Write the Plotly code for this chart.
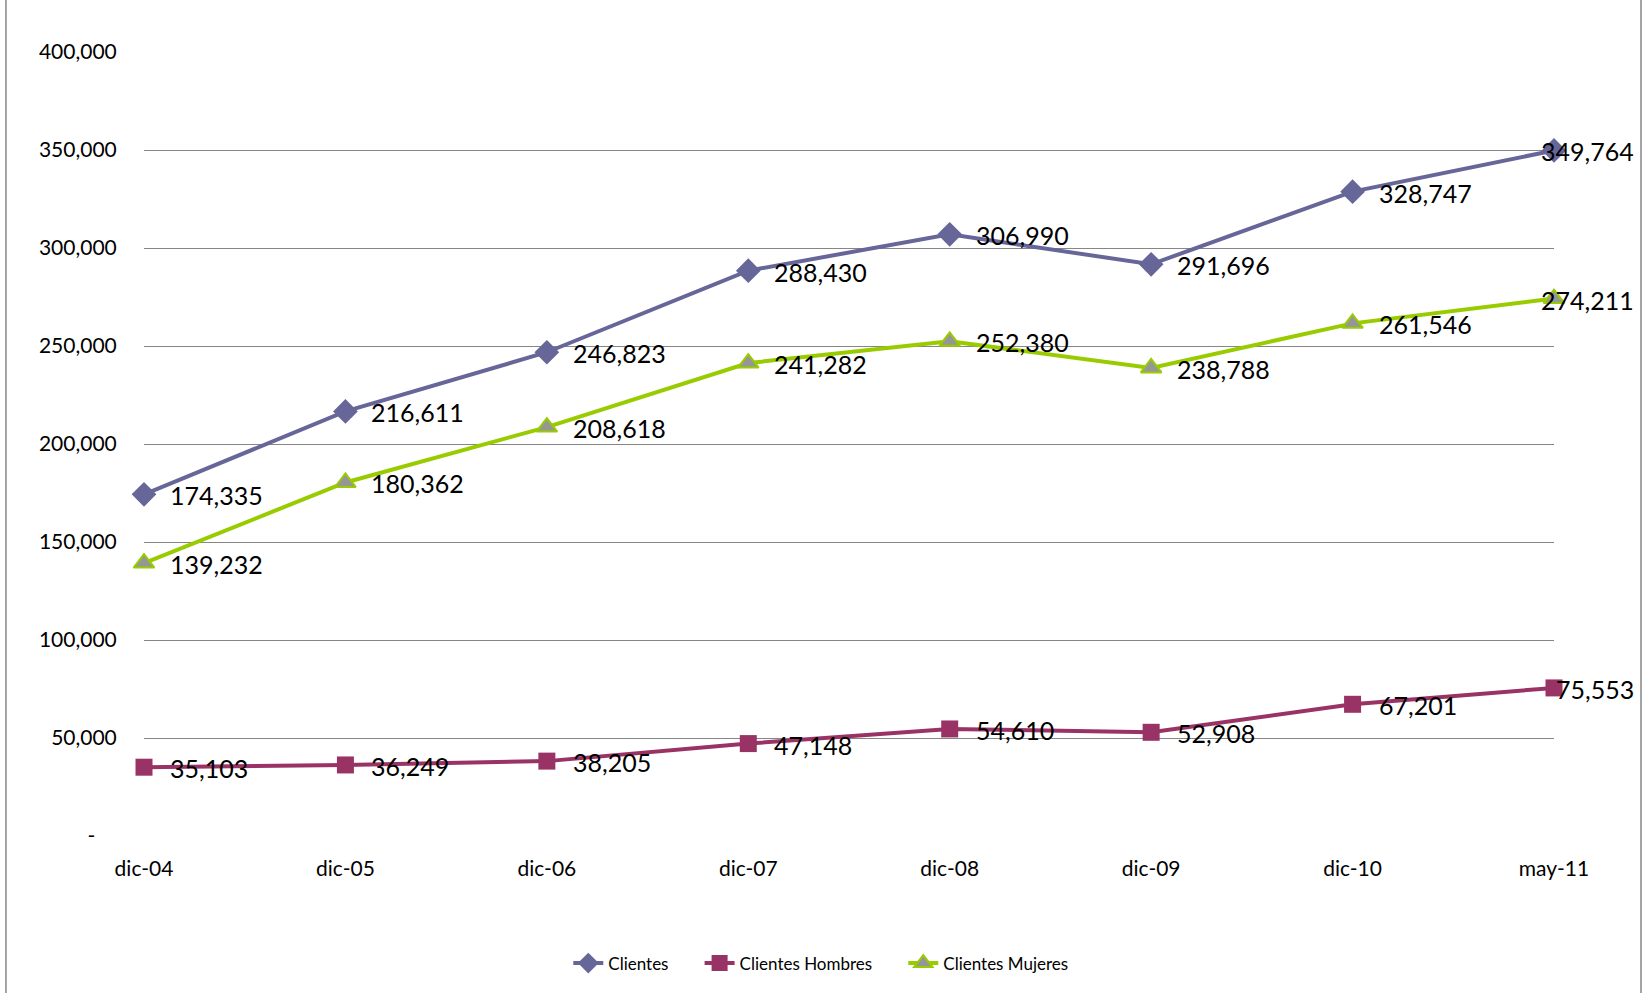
import plotly.graph_objects as go

categories = ["dic-04", "dic-05", "dic-06", "dic-07", "dic-08", "dic-09", "dic-10", "may-11"]
clientes = [174335, 216611, 246823, 288430, 306990, 291696, 328747, 349764]
hombres = [35103, 36249, 38205, 47148, 54610, 52908, 67201, 75553]
mujeres = [139232, 180362, 208618, 241282, 252380, 238788, 261546, 274211]

y_tickvals = [0, 50000, 100000, 150000, 200000, 250000, 300000, 350000, 400000]
y_ticktext = ["-\u00a0\u00a0\u00a0\u00a0", "50,000", "100,000", "150,000", "200,000",
              "250,000", "300,000", "350,000", "400,000"]

FONT = "Lato"
PAD = "\u00a0" * 6
series = [
    ("Clientes", PAD, clientes, "#666699", dict(symbol="diamond", size=19, color="#666699",
                                                line=dict(width=0))),
    ("Clientes Hombres", PAD, hombres, "#993366", dict(symbol="square", size=17, color="#993366",
                                                       line=dict(width=0))),
    ("Clientes Mujeres", "", mujeres, "#99CC00", dict(symbol="triangle-up", size=18, color="#969696",
                                                      line=dict(width=2, color="#99CC00"))),
]

fig = go.Figure()
annotations = []
for name, pad, vals, color, marker in series:
    fig.add_trace(go.Scatter(
        x=categories, y=vals, name=name + pad, mode="lines+markers",
        line=dict(color=color, width=4), marker=marker, cliponaxis=False,
    ))
    for i, (c, v) in enumerate(zip(categories, vals)):
        last = i == len(categories) - 1
        annotations.append(dict(
            x=c, y=v, xref="x", yref="y", text=f"{v:,}", showarrow=False,
            xanchor="right" if last else "left", yanchor="middle",
            xshift=82 if last else 24, yshift=-1,
            font=dict(family=FONT, size=25, color="#000000"),
        ))

fig.update_layout(
    width=1646, height=993,
    margin=dict(l=144, r=92, t=52, b=154),
    paper_bgcolor="white", plot_bgcolor="white",
    font=dict(family=FONT, color="#000000"),
    showlegend=True,
    legend=dict(orientation="h", x=0.480, xanchor="center", y=-0.1626, yanchor="middle",
                font=dict(family=FONT, size=17), itemwidth=30),
    annotations=annotations,
    shapes=[
        dict(type="line", xref="paper", yref="paper", x0=-0.0979, x1=-0.0979, y0=-0.3, y1=1.2,
             line=dict(color="#868686", width=1.5)),
        dict(type="line", xref="paper", yref="paper", x0=1.0617, x1=1.0617, y0=-0.3, y1=1.2,
             line=dict(color="#868686", width=1.5)),
    ],
)
fig.update_xaxes(
    type="category", range=[0, len(categories) - 1], showgrid=False, zeroline=False,
    showline=False, ticks="outside", ticklen=14, tickcolor="rgba(0,0,0,0)",
    tickfont=dict(family=FONT, size=21),
)
fig.update_yaxes(
    range=[0, 400000], tickvals=y_tickvals, ticktext=y_ticktext,
    showgrid=True, gridcolor="#868686", gridwidth=1, zeroline=False, showline=False,
    ticks="outside", ticklen=22, tickcolor="rgba(0,0,0,0)",
    tickfont=dict(family=FONT, size=21),
)
fig.write_html("out.html", config={"displayModeBar": False},
               post_script="document.body.style.margin='0';")
